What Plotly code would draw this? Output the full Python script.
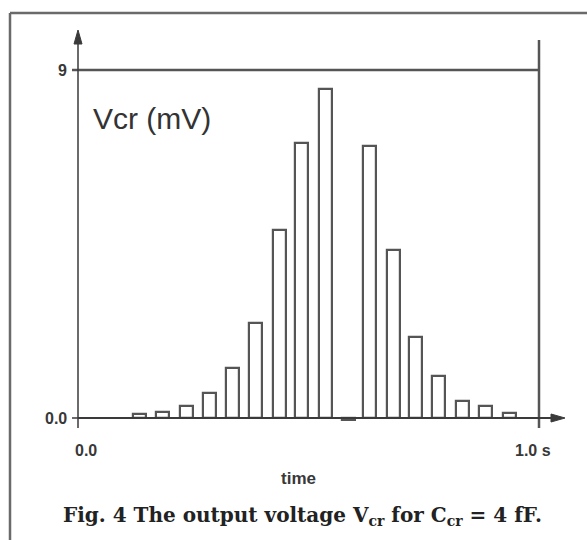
import plotly.graph_objects as go

# ---- data ----
times = [0.134, 0.183, 0.235, 0.286, 0.335, 0.384, 0.437, 0.484, 0.536, 0.586,
         0.633, 0.684, 0.733, 0.783, 0.834, 0.884, 0.935]
vcr_mv = [0.10, 0.16, 0.31, 0.65, 1.29, 2.46, 4.86, 7.11, 8.51, -0.05,
          7.03, 4.34, 2.09, 1.09, 0.44, 0.31, 0.13]
x_tick_vals = [0.0, 1.0]
x_tick_text = ["0.0", "1.0 s"]
y_tick_vals = [0.0, 9.0]
y_tick_text = ["0.0", "9"]
y_label = "Vcr (mV)"
x_label = "time"
caption = "Fig. 4 The output voltage V<sub>cr</sub> for C<sub>cr</sub> = 4 fF."

W, H = 587, 540
X0PX, X1PX = 78, 539      # pixel of t=0 and t=1
Y0PX, Y9PX = 418, 70      # pixel of v=0 and v=9
sx = (X1PX - X0PX)
sy = (Y0PX - Y9PX) / 9.0
xr = [(0 - X0PX) / sx, (W - X0PX) / sx]
yr = [(Y0PX - H) / sy, (Y0PX - 0) / sy]

def X(px):
    return (px - X0PX) / sx

def Y(py):
    return (Y0PX - py) / sy

AX = "#3a3a3a"
LN = "#555555"

fig = go.Figure()
fig.add_trace(go.Bar(
    x=times, y=vcr_mv, width=13 / sx,
    marker=dict(color="white", line=dict(color=LN, width=2.2)),
    hoverinfo="skip",
))

shapes = []
# outer frame (top and left)
shapes.append(dict(type="line", xref="paper", yref="paper", x0=10 / W, x1=1.0,
                   y0=1 - 13 / H, y1=1 - 13 / H, line=dict(color="#6a6a6a", width=2.5)))
shapes.append(dict(type="line", xref="paper", yref="paper", x0=10 / W, x1=10 / W,
                   y0=0, y1=1 - 13 / H, line=dict(color="#6a6a6a", width=2.5)))
# top reference line at 9 and right line at 1.0 s
shapes.append(dict(type="line", x0=X(72), x1=1.0, y0=9, y1=9,
                   line=dict(color=LN, width=2.5)))
shapes.append(dict(type="line", x0=1.0, x1=1.0, y0=Y(40), y1=Y(428),
                   line=dict(color=LN, width=2.5)))
# tick at zero on y axis
shapes.append(dict(type="line", x0=X(72), x1=0, y0=0, y1=0,
                   line=dict(color=AX, width=1.5)))
# axes
shapes.append(dict(type="line", x0=0, x1=0, y0=Y(40), y1=Y(428),
                   line=dict(color=AX, width=1.5)))
shapes.append(dict(type="line", x0=0, x1=X(556), y0=0, y1=0,
                   line=dict(color=AX, width=2)))
# arrow heads
shapes.append(dict(type="path",
                   path="M %f,%f L %f,%f L %f,%f Z" % (0, Y(30), X(74), Y(44), X(82), Y(44)),
                   fillcolor=AX, line=dict(color=AX, width=1)))
shapes.append(dict(type="path",
                   path="M %f,%f L %f,%f L %f,%f Z" % (X(565), 0, X(551), Y(414), X(551), Y(422)),
                   fillcolor=AX, line=dict(color=AX, width=1)))

annotations = []
lbl_font = dict(family="Liberation Sans, Arial", size=16, color="#383838")
for v, t in zip(y_tick_vals, y_tick_text):
    annotations.append(dict(x=X(69), y=v, xref="x", yref="y", text="<b>%s</b>" % t,
                            showarrow=False, xanchor="right", yanchor="middle",
                            font=lbl_font))
for v, t in zip(x_tick_vals, x_tick_text):
    annotations.append(dict(x=v + (8 / sx if v == 0 else -6 / sx), y=Y(450), xref="x", yref="y",
                            text="<b>%s</b>" % t, showarrow=False,
                            xanchor="center", yanchor="middle", font=lbl_font))
annotations.append(dict(x=X(298), y=Y(478), xref="x", yref="y", text="<b>%s</b>" % x_label,
                        showarrow=False, xanchor="center", yanchor="middle",
                        font=dict(family="Liberation Sans, Arial", size=17, color="#383838")))
annotations.append(dict(x=X(91), y=Y(118), xref="x", yref="y", text=y_label,
                        showarrow=False, xanchor="left", yanchor="middle",
                        font=dict(family="Liberation Sans, Arial", size=30, color="#333")))
annotations.append(dict(x=X(302), y=Y(516), xref="x", yref="y", text="<b>%s</b>" % caption,
                        showarrow=False, xanchor="center", yanchor="middle",
                        font=dict(family="DejaVu Serif, Liberation Serif", size=20, color="#222")))

fig.update_layout(
    width=W, height=H, margin=dict(l=0, r=0, t=0, b=0),
    paper_bgcolor="white", plot_bgcolor="white", showlegend=False,
    xaxis=dict(range=xr, visible=False, fixedrange=True),
    yaxis=dict(range=yr, visible=False, fixedrange=True),
    shapes=shapes, annotations=annotations, bargap=0,
)
fig.write_html("out.html", post_script="document.body.style.margin='0';",
               config={"displayModeBar": False})
